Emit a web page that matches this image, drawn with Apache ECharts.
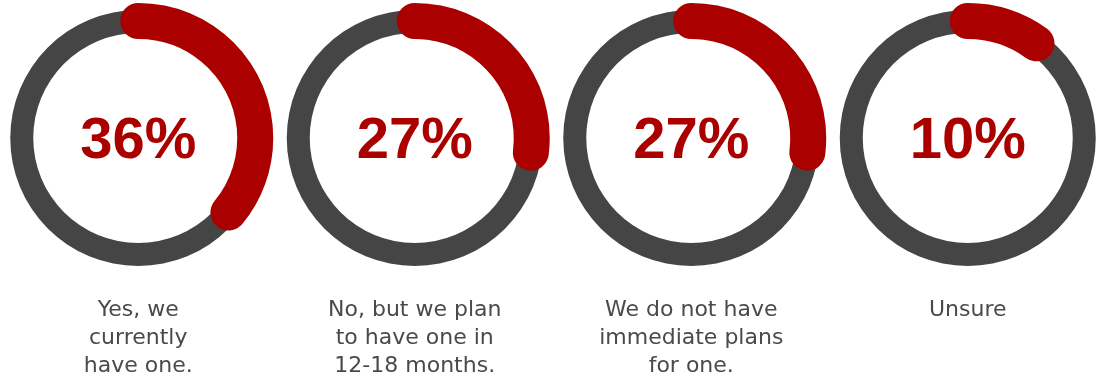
<!DOCTYPE html>
<html><head><meta charset="utf-8">
<script src="https://cdn.jsdelivr.net/npm/echarts@6/dist/echarts.min.js"></script>
<style>html,body{margin:0;padding:0;background:#fff}#c{width:1106px;height:381px}</style>
</head><body><div id="c"></div>
<script>
const categories = ['Yes, we\ncurrently\nhave one.', 'No, but we plan\nto have one in\n12-18 months.', 'We do not have\nimmediate plans\nfor one.', 'Unsure'];
const values = [36, 27, 27, 10];

const W = 1106, CY = 138;
const colW = W / categories.length;
const series = [];
categories.forEach((name, i) => {
  const cx = colW * (i + 0.5);
  const nLines = name.split('\n').length;
  const base = {
    type: 'gauge', center: [cx, CY], startAngle: 90, endAngle: -270, min: 0, max: 100,
    splitLine: {show: false}, axisTick: {show: false}, axisLabel: {show: false},
    pointer: {show: false}, silent: true, animation: false
  };
  series.push(Object.assign({}, base, {
    radius: 128,
    axisLine: {lineStyle: {width: 23, color: [[1, '#454545']]}},
    progress: {show: false}, title: {show: false}, detail: {show: false},
    data: [{value: 0}]
  }));
  series.push(Object.assign({}, base, {
    radius: 135,
    axisLine: {show: false},
    progress: {show: true, width: 36, roundCap: true, itemStyle: {color: '#aa0000'}},
    title: {show: true, offsetCenter: [0, 172 + (nLines - 1) * 14], fontSize: 22, lineHeight: 28,
            color: '#4a4a4a', fontFamily: 'DejaVu Sans'},
    detail: {show: true, offsetCenter: [0, 4], formatter: '{value}%', fontSize: 58, fontWeight: 'bold',
             color: '#aa0000', fontFamily: 'Liberation Sans', valueAnimation: false},
    data: [{value: values[i], name: name}]
  }));
});

const chart = echarts.init(document.getElementById('c'));
chart.setOption({animation: false, backgroundColor: '#fff', series: series});
</script></body></html>
